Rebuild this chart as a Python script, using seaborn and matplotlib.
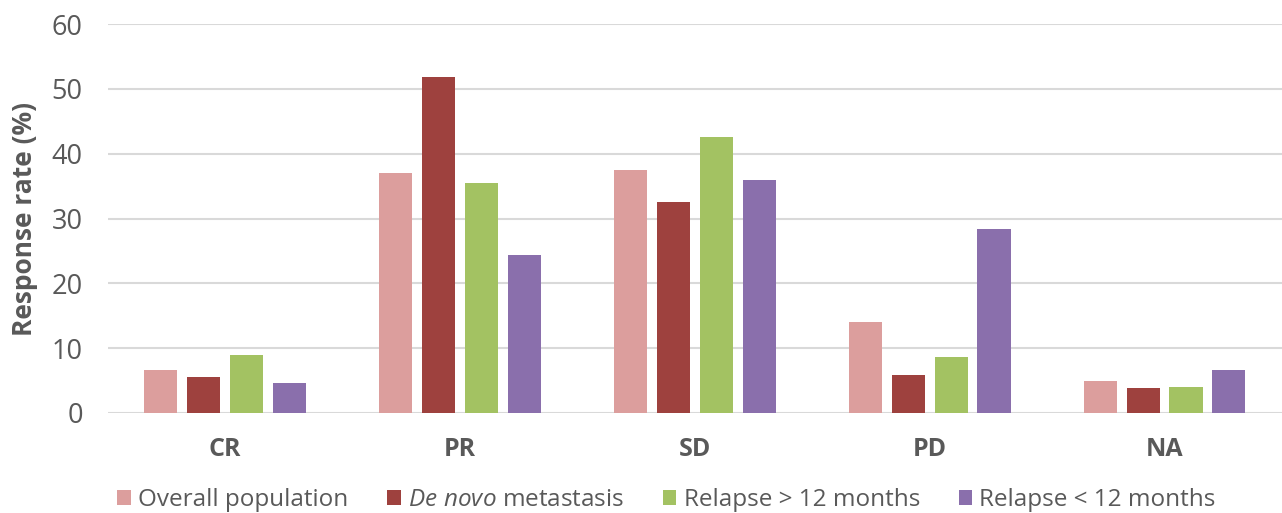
import matplotlib
matplotlib.use("Agg")
import matplotlib.pyplot as plt
import seaborn as sns
import pandas as pd
from matplotlib.patches import Patch

categories = ["CR", "PR", "SD", "PD", "NA"]
series_names = ["Overall population", "De novo metastasis", "Relapse > 12 months", "Relapse < 12 months"]
overall = [6.6, 37.0, 37.5, 14.1, 4.9]
de_novo = [5.5, 51.8, 32.5, 5.9, 3.8]
relapse_gt12 = [8.9, 35.5, 42.6, 8.7, 4.0]
relapse_lt12 = [4.6, 24.4, 35.9, 28.4, 6.6]
colors = ["#DC9E9D", "#9E413E", "#A3C262", "#8A6FAC"]

rows = []
for name, vals in zip(series_names, [overall, de_novo, relapse_gt12, relapse_lt12]):
    for c, v in zip(categories, vals):
        rows.append({"cat": c, "series": name, "value": v})
df = pd.DataFrame(rows)

sns.set_theme(style="white")
plt.rcParams['font.family'] = ['Open Sans', 'DejaVu Sans']
plt.rcParams['mathtext.fontset'] = 'custom'
plt.rcParams['mathtext.it'] = 'Open Sans:italic'
plt.rcParams['mathtext.rm'] = 'Open Sans'

fig = plt.figure(figsize=(12.82, 5.13), dpi=100)
ax = fig.add_axes([0.084, 0.195, 0.916, 0.758])
sns.barplot(data=df, x="cat", y="value", hue="series", hue_order=series_names,
            palette=colors, width=0.73, gap=0.23, ax=ax, legend=False,
            saturation=1, edgecolor="none")
ax.set_ylim(0, 60)
ax.set_yticks(range(0, 61, 10))
ax.set_xlim(-0.5, 4.5)
ax.yaxis.grid(True, color="#D9D9D9", linewidth=1.5)
ax.set_axisbelow(True)
for s in ax.spines.values():
    s.set_visible(False)
ax.tick_params(axis="y", labelsize=19.5, colors="#595959", length=0, pad=18)
ax.tick_params(axis="x", labelsize=18, colors="#595959", length=0, pad=17)
for lbl in ax.get_xticklabels():
    lbl.set_fontweight("bold")
ax.set_xlabel("")
ax.set_ylabel("Response rate (%)", fontsize=19, fontweight="bold", color="#595959", labelpad=10)

labels = ["Overall population", r"$\it{De\ novo}$ metastasis", "Relapse > 12 months", "Relapse < 12 months"]
handles = [Patch(facecolor=c, edgecolor="none") for c in colors]
fig.legend(handles, labels, loc="center", bbox_to_anchor=(0.52, 0.025), ncol=4, frameon=False,
           fontsize=17.5, handlelength=0.55, handleheight=0.55, handletextpad=0.3, columnspacing=1.6,
           labelcolor="#595959")

fig.savefig("out.png", dpi=100)
